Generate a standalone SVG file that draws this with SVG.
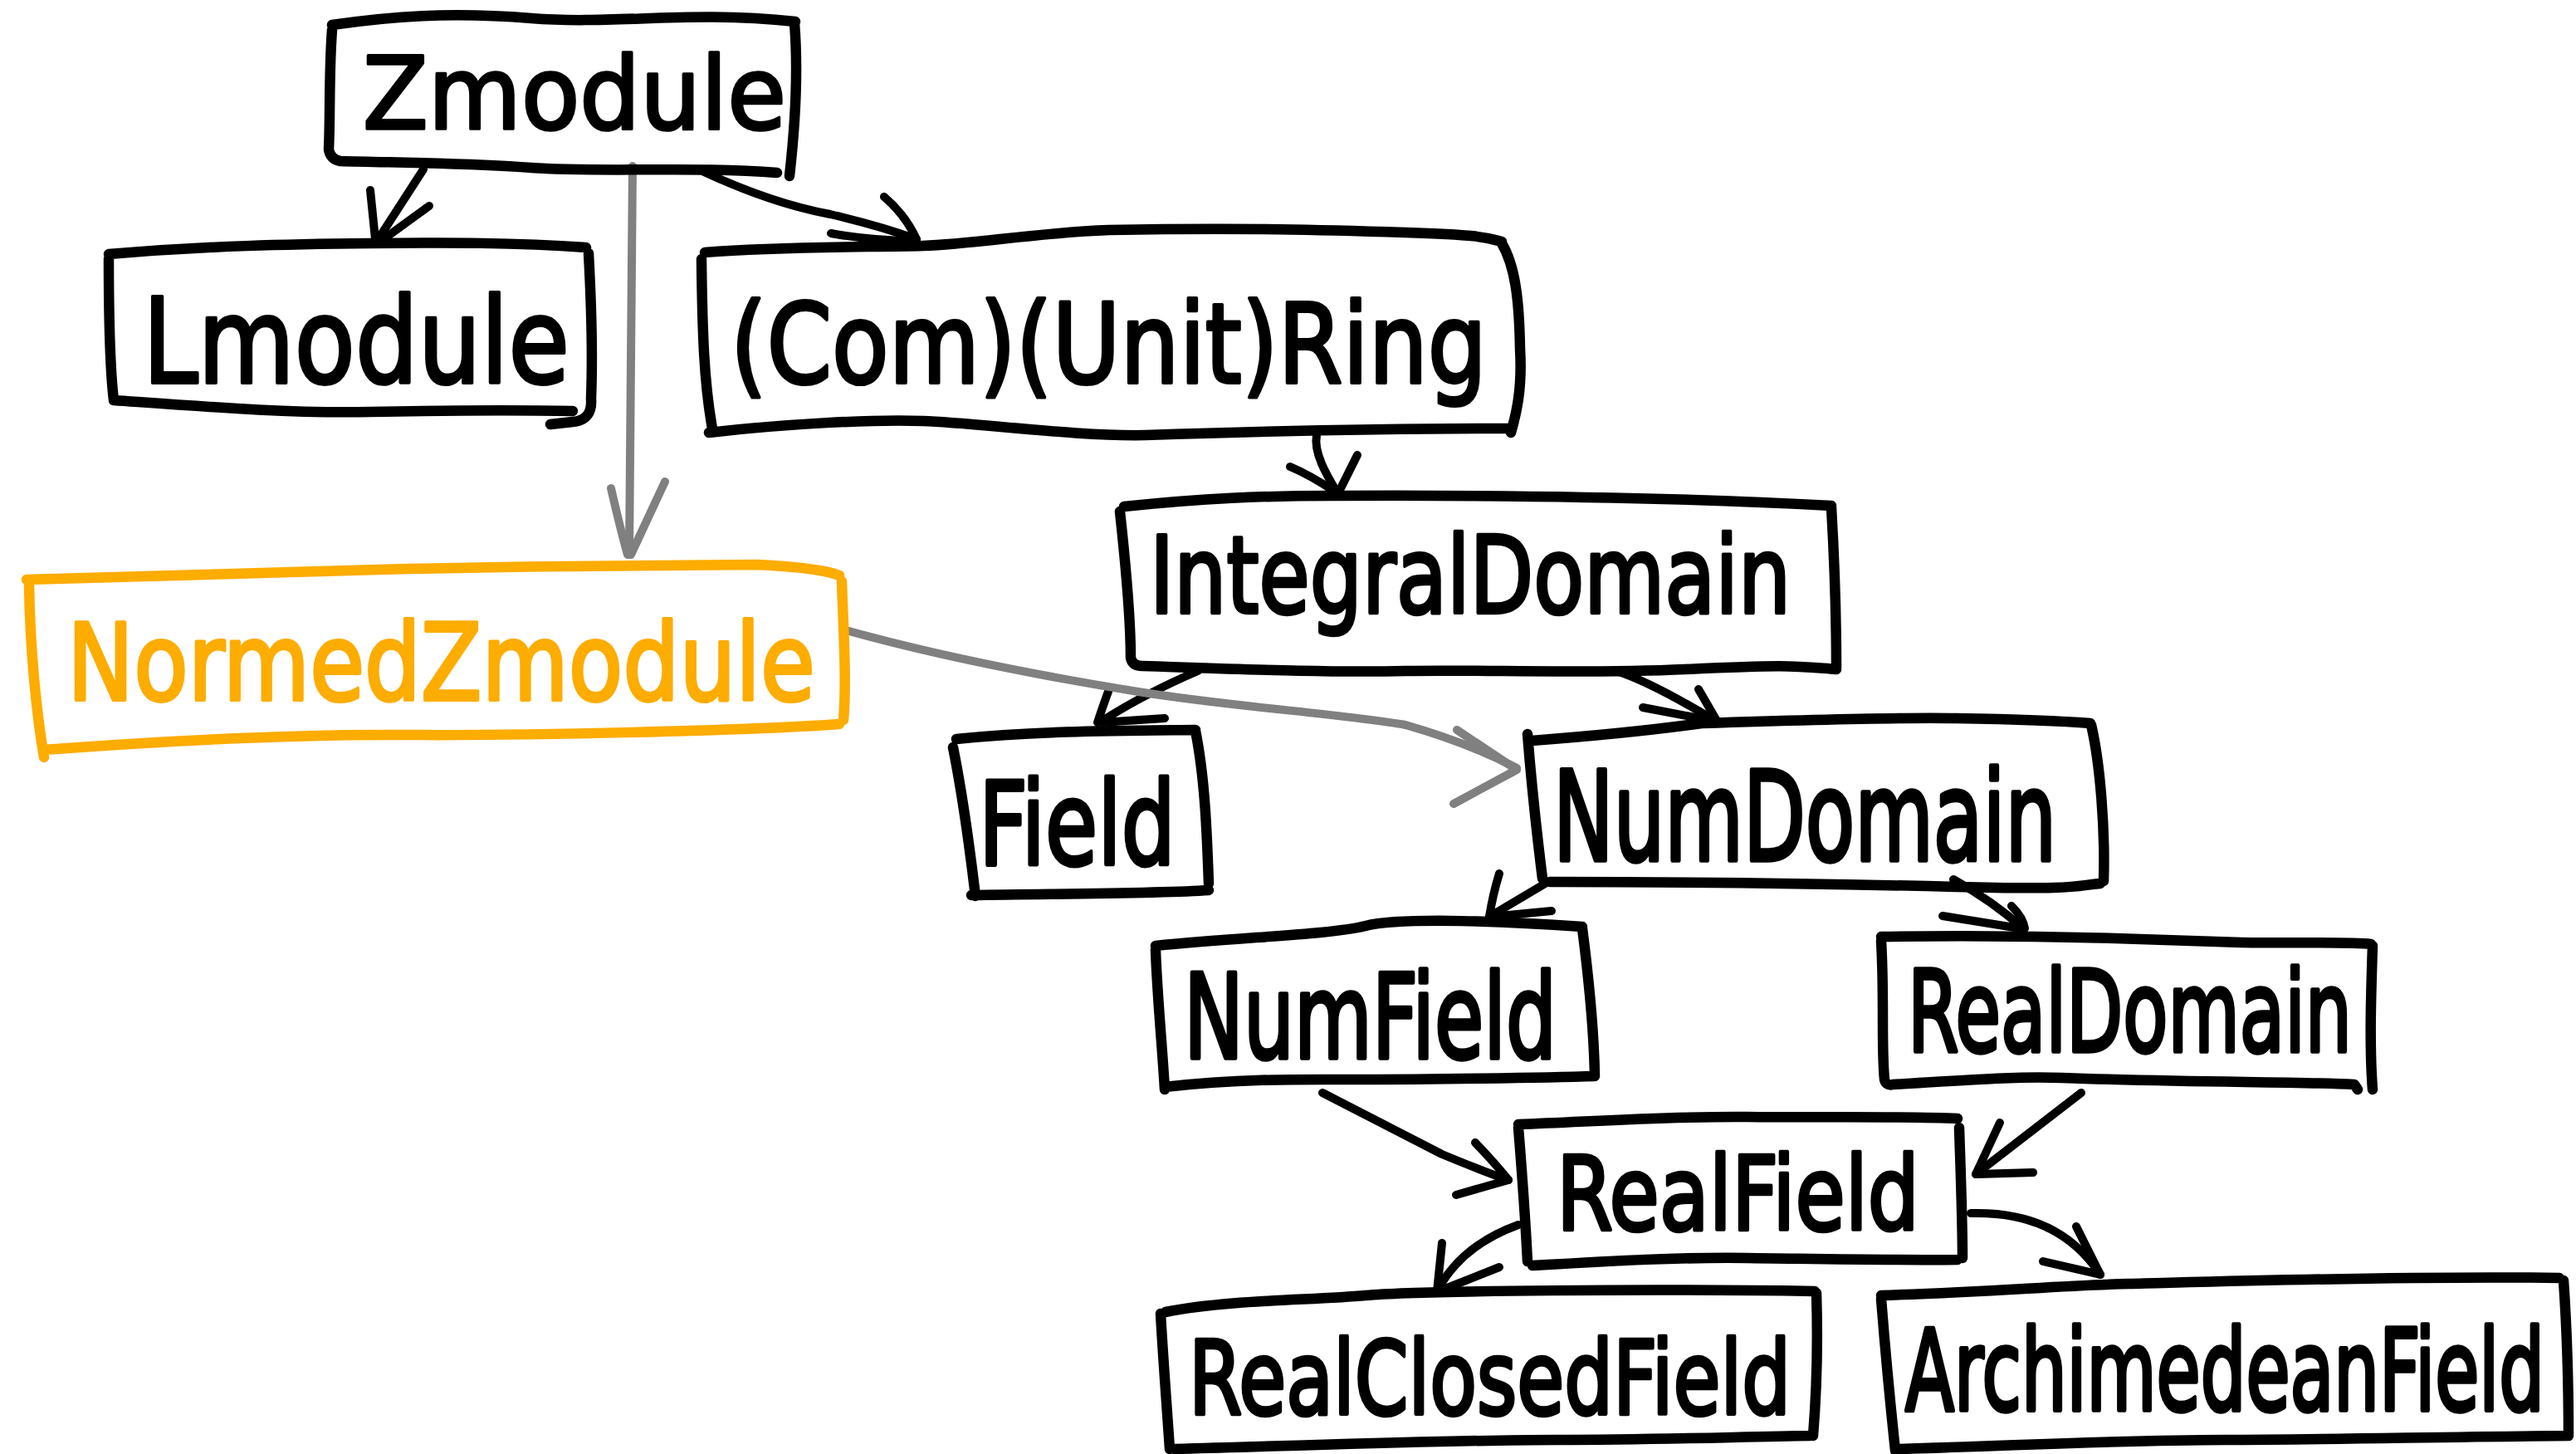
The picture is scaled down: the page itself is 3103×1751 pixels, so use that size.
<svg xmlns="http://www.w3.org/2000/svg" width="3103" height="1751" viewBox="0 0 3103 1751">
  <style>
    .box { fill: none; stroke: #000; stroke-width: 12.5; stroke-linecap: round; stroke-linejoin: round; }
    .box.hl { stroke: #FDAC00; }
    .lbl { font-family: "DejaVu Sans", "Liberation Sans", sans-serif; fill: #000; stroke: #000; stroke-width: 3.5; stroke-linejoin: round; }
    .lbl.hl { fill: #FDAC00; stroke: #FDAC00; }
    .edge { fill: none; stroke: #000; stroke-width: 10; stroke-linecap: round; stroke-linejoin: round; }
    .edge.grey { stroke: #808080; }
  </style>
  <rect width="3103" height="1751" fill="#fff"/>

  <!-- connectors -->
  <g id="edges">
    <g id="e-zmod-lmod" class="edge">
      <path d="M510,204 L455,289"/>
      <path d="M446,229 L452,288 M517,248 L462,288"/>
    </g>
    <g id="e-zmod-ring" class="edge">
      <path d="M848,207 Q930,245 1000,258 Q1060,272 1104,288"/>
      <path d="M1001,281 Q1050,290 1104,290 M1065,237 Q1090,258 1104,288"/>
    </g>
    <g id="e-ring-idom" class="edge">
      <path d="M1586,524 C1582,545 1598,572 1610,592"/>
      <path d="M1554,562 Q1578,572 1608,592 M1635,548 L1612,594"/>
    </g>
    <g id="e-idom-field" class="edge">
      <path d="M1443,808 Q1380,835 1331,866"/>
      <path d="M1336,830 Q1328,852 1322,870 M1403,865 L1327,870"/>
    </g>
    <g id="e-idom-numdom" class="edge">
      <path d="M1947,808 Q1990,822 2066,868"/>
      <path d="M1979,852 L2063,868 M2046,830 L2068,868"/>
    </g>
    <g id="e-numdom-numfield" class="edge">
      <path d="M1863,1063 L1794,1104"/>
      <path d="M1806,1052 Q1798,1078 1794,1104 M1869,1097 L1796,1104"/>
    </g>
    <g id="e-numdom-realdom" class="edge">
      <path d="M2353,1059 Q2400,1085 2437,1118"/>
      <path d="M2340,1103 L2433,1118 M2423,1091 Q2437,1105 2439,1118"/>
    </g>
    <g id="e-numfield-realfield" class="edge">
      <path d="M1593,1316 L1737,1390 Q1790,1412 1817,1421"/>
      <path d="M1777,1376 Q1800,1400 1817,1421 M1754,1439 L1817,1421"/>
    </g>
    <g id="e-realdom-realfield" class="edge">
      <path d="M2507,1316 L2380,1414"/>
      <path d="M2409,1352 L2380,1414 M2449,1412 L2382,1414"/>
    </g>
    <g id="e-realfield-rcf" class="edge">
      <path d="M1829,1475 Q1760,1500 1731,1555"/>
      <path d="M1737,1497 L1731,1555 M1806,1526 L1733,1555"/>
    </g>
    <g id="e-realfield-arch" class="edge">
      <path d="M2374,1461 Q2480,1458 2530,1535"/>
      <path d="M2501,1477 L2530,1535 M2461,1519 L2530,1535"/>
    </g>
    <g id="e-zmod-normed" class="edge grey">
      <path d="M762,200 L758,668"/>
      <path d="M736,588 Q748,640 756,668 M801,580 L760,668"/>
    </g>
    <g id="e-normed-numdom" class="edge grey">
      <path d="M1019,759 C1130,790 1260,815 1371,833 S1620,860 1693,873 Q1770,895 1827,925"/>
      <path d="M1755,879 L1827,927 M1751,968 L1827,927"/>
    </g>
  </g>

  <!-- nodes; labels are stretched upward from their baseline for a tall hand-lettered look -->
  <g id="zmodule">
    <path class="box" d="M400,30 C470,20 540,14 640,22 S830,12 958,26 M957,28 C962,90 958,150 951,212 M400,36 C396,90 398,140 396,180 Q398,192 410,194 C480,196 560,196 640,202 S840,200 936,208"/>
    <text class="lbl" x="437" y="155" font-size="115" textLength="510" lengthAdjust="spacingAndGlyphs" transform="matrix(1 0 0 1.05 0 -7.75)">Zmodule</text>
  </g>

  <g id="lmodule">
    <path class="box" d="M131,306 C250,296 350,294 446,293 S620,292 706,298 M709,305 C712,360 714,430 712,480 Q714,506 690,508 L663,511 M131,312 C131,380 132,440 137,482 C250,490 350,498 446,496 S640,494 690,495"/>
    <text class="lbl" x="172" y="461" font-size="119" textLength="514" lengthAdjust="spacingAndGlyphs" transform="matrix(1 0 0 1.2 0 -92.2)">Lmodule</text>
  </g>

  <g id="ring">
    <path class="box" d="M849,304 C950,296 1050,298 1112,296 S1250,280 1336,277 C1500,274 1600,277 1693,280 S1790,286 1809,291 M1809,293 C1825,320 1830,360 1831,420 C1834,470 1826,500 1820,521 M845,312 C846,400 848,460 858,516 M854,521 C950,510 1050,505 1112,507 S1300,526 1380,524 C1560,518 1700,516 1818,516"/>
    <text class="lbl" x="880" y="461" font-size="112" textLength="911" lengthAdjust="spacingAndGlyphs" transform="matrix(1 0 0 1.2 0 -92.2)">(Com)(Unit)Ring</text>
  </g>

  <g id="idomain">
    <path class="box" d="M1354,610 C1450,600 1520,597 1604,597 C1800,596 2000,598 2206,609 M1349,616 C1356,680 1362,740 1362,792 Q1364,802 1376,802 C1500,806 1600,810 1693,808 S1900,812 2030,806 S2160,802 2212,806 M2206,611 C2210,680 2212,740 2212,804"/>
    <text class="lbl" x="1385" y="738" font-size="99" textLength="772" lengthAdjust="spacingAndGlyphs" transform="matrix(1 0 0 1.3 0 -221.4)">IntegralDomain</text>
  </g>

  <g id="field">
    <path class="box" d="M1152,890 C1250,880 1350,880 1440,879 M1148,900 C1160,960 1168,1020 1175,1079 M1170,1078 C1300,1076 1400,1076 1456,1072 M1440,880 C1452,940 1454,1010 1456,1064"/>
    <text class="lbl" x="1179" y="1041" font-size="99" textLength="237" lengthAdjust="spacingAndGlyphs" transform="matrix(1 0 0 1.4 0 -416.4)">Field</text>
  </g>

  <g id="numdomain">
    <path class="box" d="M1845,892 C1950,884 2000,878 2050,871 C2200,866 2300,864 2356,865 S2480,868 2518,871 M2519,873 C2530,920 2536,1000 2534,1061 M1840,884 C1846,960 1852,1010 1858,1058 M1867,1062 C2000,1062 2200,1064 2356,1068 S2500,1066 2530,1064"/>
    <text class="lbl" x="1871" y="1036" font-size="97" textLength="606" lengthAdjust="spacingAndGlyphs" transform="matrix(1 0 0 1.55 0 -569.8)">NumDomain</text>
  </g>

  <g id="numfield">
    <path class="box" d="M1392,1139 C1500,1128 1600,1126 1645,1115 S1820,1110 1906,1116 M1392,1144 C1394,1200 1400,1260 1403,1312 M1403,1309 C1500,1298 1580,1300 1645,1300 S1860,1298 1921,1296 M1906,1118 C1914,1180 1920,1240 1921,1296"/>
    <text class="lbl" x="1426" y="1274" font-size="94" textLength="449" lengthAdjust="spacingAndGlyphs" transform="matrix(1 0 0 1.5 0 -637)">NumField</text>
  </g>

  <g id="realdomain">
    <path class="box" d="M2266,1128 C2400,1126 2480,1128 2548,1130 S2660,1134 2700,1135 C2780,1136 2830,1134 2856,1137 M2858,1139 C2856,1200 2854,1260 2858,1312 M2266,1133 C2270,1200 2266,1260 2270,1300 Q2272,1308 2280,1306 C2380,1300 2430,1296 2484,1298 C2650,1304 2760,1302 2836,1306 L2840,1312"/>
    <text class="lbl" x="2298" y="1266" font-size="90" textLength="535" lengthAdjust="spacingAndGlyphs" transform="matrix(1 0 0 1.5 0 -633)">RealDomain</text>
  </g>

  <g id="realfield">
    <path class="box" d="M1829,1354 C1930,1350 2020,1344 2105,1345 S2300,1344 2358,1347 M1829,1358 C1834,1420 1838,1480 1840,1519 M1846,1524 C1950,1518 2020,1514 2105,1515 S2300,1518 2358,1517 M2360,1358 C2362,1420 2364,1470 2364,1515"/>
    <text class="lbl" x="1875" y="1481" font-size="95" textLength="437" lengthAdjust="spacingAndGlyphs" transform="matrix(1 0 0 1.3 0 -444.3)">RealField</text>
  </g>

  <g id="realclosedfield">
    <path class="box" d="M1404,1580 C1480,1565 1580,1566 1645,1560 S2000,1552 2186,1555 M1398,1582 C1402,1650 1406,1700 1409,1745 M1415,1745 C1600,1740 1750,1734 1875,1734 S2100,1730 2180,1729 M2188,1557 C2190,1620 2188,1680 2184,1729"/>
    <text class="lbl" x="1432" y="1703" font-size="91" textLength="725" lengthAdjust="spacingAndGlyphs" transform="matrix(1 0 0 1.35 0 -596.05)">RealClosedField</text>
  </g>

  <g id="archimedeanfield">
    <path class="box" d="M2266,1560 C2400,1556 2480,1548 2565,1546 S2900,1536 3083,1539 M2266,1564 C2272,1640 2278,1700 2283,1747 M2289,1745 C2450,1740 2560,1734 2680,1734 S2950,1730 3094,1729 M3088,1542 C3092,1600 3094,1680 3094,1729"/>
    <text class="lbl" x="2295" y="1698" font-size="85" textLength="770" lengthAdjust="spacingAndGlyphs" transform="matrix(1 0 0 1.6 0 -1018.8)">ArchimedeanField</text>
  </g>

  <g id="normedzmodule">
    <path class="box hl" d="M32,698 C200,692 350,688 491,685 S800,680 912,680 Q990,684 1011,693 M1014,700 C1016,760 1020,820 1016,867 M35,703 C36,780 44,860 53,912 M53,903 C200,892 350,884 491,885 S900,880 1011,872"/>
    <text class="lbl hl" x="81" y="843" font-size="107" textLength="901" lengthAdjust="spacingAndGlyphs" transform="matrix(1 0 0 1.2 0 -168.6)">NormedZmodule</text>
  </g>
</svg>
